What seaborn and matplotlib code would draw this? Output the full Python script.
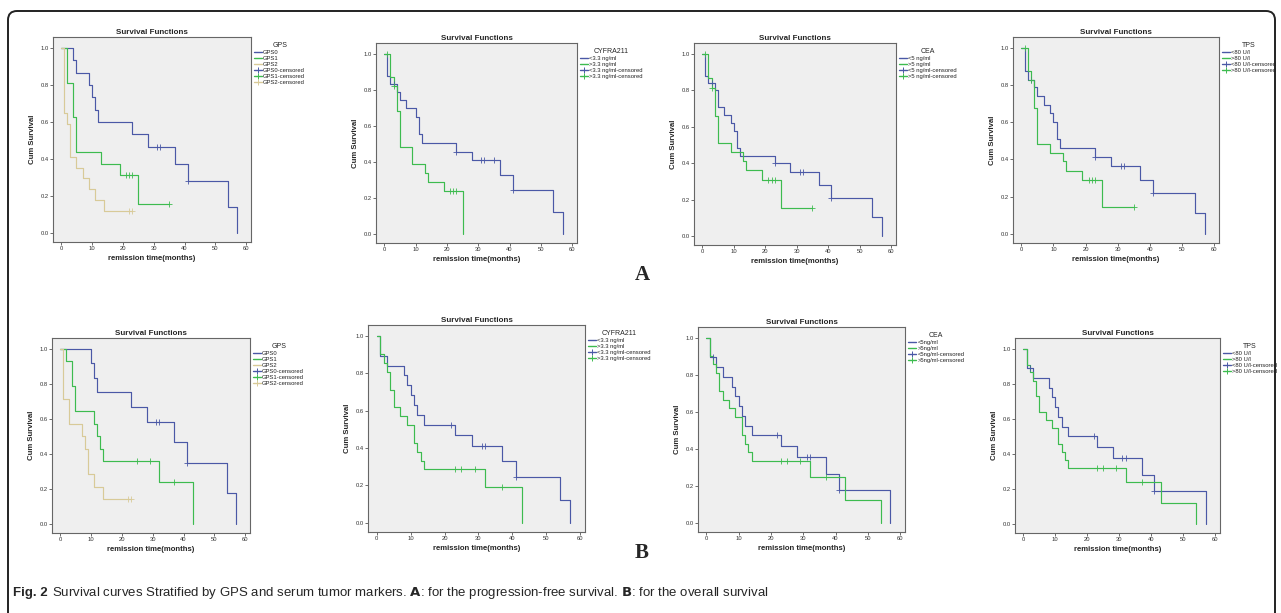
import numpy as np
import matplotlib
matplotlib.use("Agg")
import matplotlib.pyplot as plt
from matplotlib.lines import Line2D
from matplotlib.patches import FancyBboxPatch
import seaborn as sns

# ---- data (time in months, survival after each drop) ----
# A: progression-free survival
pfs_gps0_t = [0, 4, 5, 9, 10, 11, 12, 23, 28, 37, 41, 54, 57]
pfs_gps0_s = [1.0, 0.933, 0.867, 0.80, 0.733, 0.667, 0.60, 0.533, 0.467, 0.373, 0.28, 0.14, 0.0]
pfs_gps0_c = [31, 32, 41]
pfs_gps1_t = [0, 2, 4, 5, 13, 19, 25]
pfs_gps1_s = [1.0, 0.813, 0.625, 0.437, 0.375, 0.313, 0.156]
pfs_gps1_c = [21, 22, 23, 35]
pfs_gps2_t = [0, 1, 2, 3, 5, 7, 9, 11, 14]
pfs_gps2_s = [1.0, 0.65, 0.59, 0.41, 0.353, 0.294, 0.235, 0.176, 0.118]
pfs_gps2_c = [22, 23]

pfs_cyfra_lo_t = [0, 1, 2, 4, 5, 7, 10, 11, 12, 23, 28, 37, 41, 54, 57]
pfs_cyfra_lo_s = [1.0, 0.875, 0.833, 0.79, 0.743, 0.70, 0.65, 0.555, 0.507, 0.456, 0.408, 0.33, 0.246, 0.123, 0.0]
pfs_cyfra_lo_c = [3, 23, 31, 32, 35, 41]
pfs_cyfra_hi_t = [0, 2, 3, 4, 5, 9, 13, 14, 19, 25]
pfs_cyfra_hi_s = [1.0, 0.87, 0.82, 0.68, 0.485, 0.39, 0.34, 0.29, 0.24, 0.0]
pfs_cyfra_hi_c = [1, 3, 21, 22, 23]

pfs_cea_lo_t = [0, 1, 2, 4, 5, 7, 9, 10, 11, 12, 23, 28, 37, 41, 54, 57]
pfs_cea_lo_s = [1.0, 0.88, 0.84, 0.80, 0.71, 0.665, 0.62, 0.575, 0.485, 0.44, 0.40, 0.35, 0.28, 0.21, 0.105, 0.0]
pfs_cea_lo_c = [3, 23, 31, 32, 41]
pfs_cea_hi_t = [0, 2, 3, 4, 5, 9, 13, 14, 19, 25]
pfs_cea_hi_s = [1.0, 0.865, 0.815, 0.66, 0.51, 0.46, 0.41, 0.36, 0.305, 0.153]
pfs_cea_hi_c = [1, 3, 21, 22, 23, 35]

pfs_tps_lo_t = [0, 1, 2, 4, 5, 7, 9, 10, 11, 12, 23, 28, 37, 41, 54, 57]
pfs_tps_lo_s = [1.0, 0.875, 0.83, 0.79, 0.74, 0.695, 0.65, 0.60, 0.51, 0.46, 0.415, 0.365, 0.29, 0.22, 0.11, 0.0]
pfs_tps_lo_c = [3, 23, 31, 32, 41]
pfs_tps_hi_t = [0, 2, 3, 4, 5, 9, 13, 14, 19, 25]
pfs_tps_hi_s = [1.0, 0.875, 0.83, 0.68, 0.485, 0.435, 0.39, 0.34, 0.29, 0.145]
pfs_tps_hi_c = [1, 3, 21, 22, 23, 35]

# B: overall survival
os_gps0_t = [0, 10, 11, 12, 23, 28, 37, 41, 54, 57]
os_gps0_s = [1.0, 0.917, 0.833, 0.75, 0.667, 0.583, 0.467, 0.35, 0.175, 0.0]
os_gps0_c = [31, 32, 41]
os_gps1_t = [0, 2, 4, 5, 11, 12, 13, 14, 32, 43]
os_gps1_s = [1.0, 0.929, 0.786, 0.643, 0.571, 0.50, 0.429, 0.357, 0.238, 0.0]
os_gps1_c = [25, 29, 37]
os_gps2_t = [0, 1, 3, 7, 8, 9, 11, 14]
os_gps2_s = [1.0, 0.714, 0.571, 0.50, 0.429, 0.286, 0.214, 0.143]
os_gps2_c = [22, 23]

os_cyfra_lo_t = [0, 1, 3, 8, 9, 10, 11, 12, 14, 23, 28, 37, 41, 54, 57]
os_cyfra_lo_s = [1.0, 0.895, 0.842, 0.79, 0.737, 0.684, 0.632, 0.579, 0.526, 0.47, 0.41, 0.33, 0.246, 0.123, 0.0]
os_cyfra_lo_c = [22, 31, 32, 41]
os_cyfra_hi_t = [0, 1, 2, 3, 4, 5, 7, 9, 11, 12, 13, 14, 32, 43]
os_cyfra_hi_s = [1.0, 0.905, 0.857, 0.81, 0.714, 0.619, 0.571, 0.524, 0.429, 0.381, 0.333, 0.286, 0.19, 0.0]
os_cyfra_hi_c = [23, 25, 29, 37]

os_cea_lo_t = [0, 1, 3, 5, 8, 9, 10, 11, 12, 14, 23, 28, 37, 41, 57]
os_cea_lo_s = [1.0, 0.895, 0.842, 0.79, 0.737, 0.684, 0.632, 0.579, 0.526, 0.474, 0.415, 0.355, 0.266, 0.178, 0.0]
os_cea_lo_c = [2, 22, 31, 32, 41]
os_cea_hi_t = [0, 1, 2, 3, 4, 5, 7, 9, 11, 12, 13, 14, 32, 43, 54]
os_cea_hi_s = [1.0, 0.905, 0.857, 0.81, 0.714, 0.667, 0.619, 0.571, 0.476, 0.429, 0.381, 0.333, 0.25, 0.125, 0.0]
os_cea_hi_c = [23, 25, 29, 37]

os_tps_lo_t = [0, 1, 3, 8, 9, 10, 11, 12, 14, 23, 28, 37, 41, 57]
os_tps_lo_s = [1.0, 0.889, 0.833, 0.778, 0.722, 0.667, 0.611, 0.556, 0.50, 0.437, 0.375, 0.28, 0.187, 0.0]
os_tps_lo_c = [2, 22, 31, 32, 41]
os_tps_hi_t = [0, 1, 2, 3, 4, 5, 7, 9, 11, 12, 13, 14, 32, 43, 54]
os_tps_hi_s = [1.0, 0.909, 0.864, 0.818, 0.727, 0.636, 0.591, 0.545, 0.455, 0.409, 0.364, 0.318, 0.24, 0.12, 0.0]
os_tps_hi_c = [23, 25, 29, 37]

gps_labels = ["GPS0", "GPS1", "GPS2"]
cyfra_labels = ["<3.3 ng/ml", ">3.3 ng/ml"]
cea_labels_a = ["<5 ng/ml", ">5 ng/ml"]
cea_labels_b = ["<5ng/ml", ">5ng/ml"]
tps_labels = ["<80 U/l", ">80 U/l"]

BLUE = "#4a58a6"
GREEN = "#3dbb4f"
TAN = "#d8ca98"
colors = [BLUE, GREEN, TAN]

sns.set_style("white")
plt.rcParams["font.family"] = ["Liberation Sans", "DejaVu Sans"]

W, H = 1281, 613
fig = plt.figure(figsize=(W / 100, H / 100), dpi=100)


def px_axes(l, t, r, b):
    return fig.add_axes([l / W, 1 - b / H, (r - l) / W, (b - t) / H])


def km_panel(box, curves, labels, title):
    ax = px_axes(*box)
    ax.set_facecolor("#efefef")
    for i, (t, s, c) in enumerate(curves):
        t = list(t)
        s = list(s)
        if c and max(c) > t[-1]:
            t.append(max(c))
            s.append(s[-1])
        sns.lineplot(x=t, y=s, ax=ax, drawstyle="steps-post", color=colors[i],
                     linewidth=0.85, estimator=None, sort=False)
        idx = np.searchsorted(t, c, side="right") - 1
        cy = np.array(s)[idx]
        sns.scatterplot(x=c, y=cy, ax=ax, marker="+", color=colors[i], s=16,
                        linewidth=0.6, zorder=3)
    ax.set_xlim(-2.6, 61.5)
    ax.set_ylim(-0.05, 1.06)
    ax.set_xticks(range(0, 61, 10))
    ax.set_yticks(np.arange(0, 1.01, 0.2))
    ax.set_yticklabels([f"{v:.1f}" for v in np.arange(0, 1.01, 0.2)])
    ax.tick_params(labelsize=4.2, length=2, width=0.5, direction="out",
                   pad=1, colors="#333333")
    ax.tick_params(axis="both", which="both", bottom=True, left=True)
    for sp in ax.spines.values():
        sp.set_color("#666666")
        sp.set_linewidth(0.8)
    ax.set_title("Survival Functions", fontsize=5.8, fontweight="bold", pad=2)
    ax.set_xlabel("remission time(months)", fontsize=5.6, fontweight="bold", labelpad=3)
    ax.set_ylabel("Cum Survival", fontsize=5.6, fontweight="bold", labelpad=3)

    handles = []
    names = []
    for i, lab in enumerate(labels):
        handles.append(Line2D([], [], color=colors[i], linewidth=1.0))
        names.append(lab)
    for i, lab in enumerate(labels):
        handles.append(Line2D([], [], color=colors[i], linewidth=1.0, marker="+",
                              markersize=4.5, markeredgewidth=0.7))
        names.append(lab + "-censored")
    leg = ax.legend(handles, names, title=title, loc="upper left",
                    bbox_to_anchor=(1.01, 0.98), frameon=False, fontsize=4.2,
                    title_fontsize=5, handlelength=1.3, handletextpad=0.25,
                    labelspacing=0.15, borderaxespad=0, borderpad=0.2)
    leg._legend_box.align = "center"
    for txt in leg.get_texts():
        txt.set_color("#222222")
    return ax


km_panel((53, 37, 251, 242),
         [(pfs_gps0_t, pfs_gps0_s, pfs_gps0_c), (pfs_gps1_t, pfs_gps1_s, pfs_gps1_c),
          (pfs_gps2_t, pfs_gps2_s, pfs_gps2_c)], gps_labels, "GPS")
km_panel((376, 43, 577, 243),
         [(pfs_cyfra_lo_t, pfs_cyfra_lo_s, pfs_cyfra_lo_c),
          (pfs_cyfra_hi_t, pfs_cyfra_hi_s, pfs_cyfra_hi_c)], cyfra_labels, "CYFRA211")
km_panel((694, 43, 896, 245),
         [(pfs_cea_lo_t, pfs_cea_lo_s, pfs_cea_lo_c),
          (pfs_cea_hi_t, pfs_cea_hi_s, pfs_cea_hi_c)], cea_labels_a, "CEA")
km_panel((1013, 37, 1219, 243),
         [(pfs_tps_lo_t, pfs_tps_lo_s, pfs_tps_lo_c),
          (pfs_tps_hi_t, pfs_tps_hi_s, pfs_tps_hi_c)], tps_labels, "TPS")

km_panel((52, 338, 250, 533),
         [(os_gps0_t, os_gps0_s, os_gps0_c), (os_gps1_t, os_gps1_s, os_gps1_c),
          (os_gps2_t, os_gps2_s, os_gps2_c)], gps_labels, "GPS")
km_panel((368, 325, 585, 532),
         [(os_cyfra_lo_t, os_cyfra_lo_s, os_cyfra_lo_c),
          (os_cyfra_hi_t, os_cyfra_hi_s, os_cyfra_hi_c)], cyfra_labels, "CYFRA211")
km_panel((698, 327, 905, 532),
         [(os_cea_lo_t, os_cea_lo_s, os_cea_lo_c),
          (os_cea_hi_t, os_cea_hi_s, os_cea_hi_c)], cea_labels_b, "CEA")
km_panel((1015, 338, 1220, 533),
         [(os_tps_lo_t, os_tps_lo_s, os_tps_lo_c),
          (os_tps_hi_t, os_tps_hi_s, os_tps_hi_c)], tps_labels, "TPS")

# panel letters
fig.text(642 / W, 1 - 275 / H, "A", family=["Liberation Serif", "DejaVu Serif"],
         fontsize=15, fontweight="bold", ha="center", va="center")
fig.text(642 / W, 1 - 553 / H, "B", family=["Liberation Serif", "DejaVu Serif"],
         fontsize=15, fontweight="bold", ha="center", va="center")

# caption
fig.text(13 / W, 1 - 593 / H, "Fig. 2", fontsize=9.5, fontweight="bold",
         ha="left", va="center")
fig.text(52 / W, 1 - 593 / H,
         "Survival curves Stratified by GPS and serum tumor markers. $\\bf{A}$: for the "
         "progression-free survival. $\\bf{B}$: for the overall survival",
         fontsize=9.5, ha="left", va="center")

# rounded frame around the figure
frame = FancyBboxPatch((8, -30), 1267, (H - 11) + 30,
                       boxstyle="round,pad=0,rounding_size=9",
                       transform=None, fill=False, edgecolor="#222222",
                       linewidth=1.4)
fig.patches.append(frame)

fig.savefig("out.png", dpi=100)
